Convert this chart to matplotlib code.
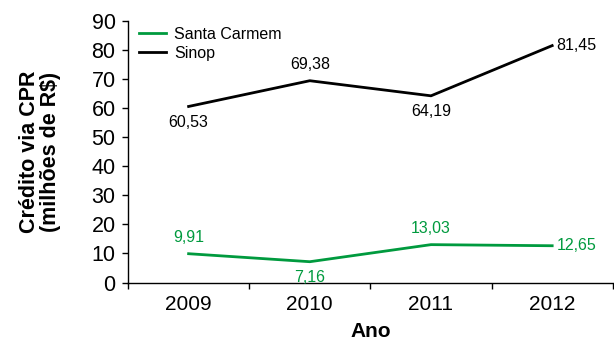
import numpy as np
import matplotlib.pyplot as plt

plt.rcParams['font.family'] = ['Liberation Sans', 'DejaVu Sans']

anos = ['2009', '2010', '2011', '2012']
santa_carmem = [9.91, 7.16, 13.03, 12.65]
sinop = [60.53, 69.38, 64.19, 81.45]

verde = '#009a3e'
x = np.arange(len(anos))

fig = plt.figure(figsize=(6.14, 3.40), dpi=100)
ax = fig.add_axes([0.2085, 0.169, 0.7895, 0.770])

ax.plot(x, santa_carmem, color=verde, linewidth=2.0, label='Santa Carmem')
ax.plot(x, sinop, color='black', linewidth=2.0, label='Sinop')

def fmt(v):
    return f'{v:.2f}'.replace('.', ',')

# posicao dos rotulos: acima, abaixo ou a direita
pos_sc = ['above', 'below', 'above', 'right']
pos_si = ['below', 'above', 'below', 'right']

def rotular(vals, pos, cor):
    for i, (v, p) in enumerate(zip(vals, pos)):
        if p == 'above':
            ax.annotate(fmt(v), (i, v), xytext=(0, 6), textcoords='offset points',
                        ha='center', va='bottom', fontsize=11.5, color=cor)
        elif p == 'below':
            ax.annotate(fmt(v), (i, v), xytext=(0, -6), textcoords='offset points',
                        ha='center', va='top', fontsize=11.5, color=cor)
        else:
            ax.annotate(fmt(v), (i, v), xytext=(3, 0), textcoords='offset points',
                        ha='left', va='center', fontsize=11.5, color=cor)

rotular(santa_carmem, pos_sc, verde)
rotular(sinop, pos_si, 'black')

ax.set_xlim(-0.5, 3.5)
ax.set_ylim(0, 90)
ax.set_yticks(np.arange(0, 91, 10))
ax.set_xticks(x)
ax.set_xticklabels(anos)
ax.set_xticks(np.arange(-0.5, 3.6, 1), minor=True)
ax.tick_params(axis='x', which='major', length=0, labelsize=15, pad=9)
ax.tick_params(axis='x', which='minor', length=4, width=1, direction='out')
ax.tick_params(axis='y', length=4, width=1, direction='out', labelsize=15.5, pad=5)

for s in ['top', 'right']:
    ax.spines[s].set_visible(False)
for s in ['left', 'bottom']:
    ax.spines[s].set_linewidth(1.0)

ax.set_xlabel('Ano', fontsize=15, fontweight='bold', labelpad=6)
ax.set_ylabel('Crédito via CPR\n(milhões de R$)', fontsize=15.5, fontweight='bold',
              labelpad=22, linespacing=1.0)

ax.legend(loc='upper left', bbox_to_anchor=(0.0, 1.02), frameon=False, fontsize=11.5,
          handlelength=1.7, handletextpad=0.5, labelspacing=0.25, borderaxespad=0.3)

fig.savefig('out.png', dpi=100)
